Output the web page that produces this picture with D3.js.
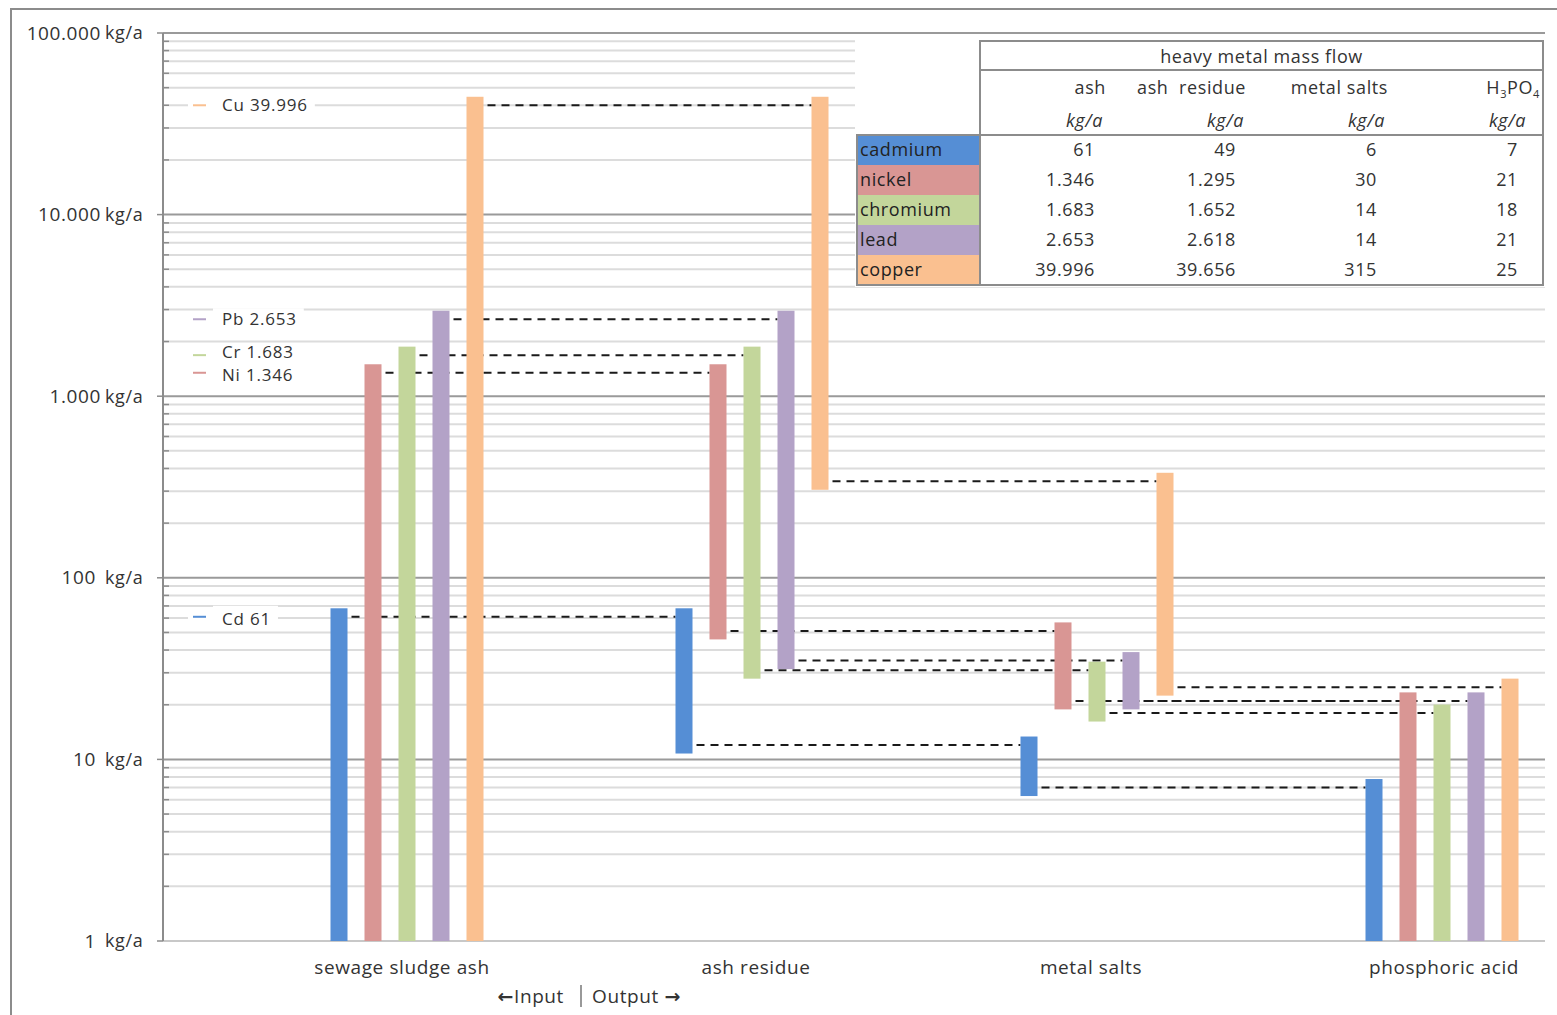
<!DOCTYPE html>
<html>
<head>
<meta charset="utf-8">
<script src="https://cdn.jsdelivr.net/npm/d3@7"></script>
<style>
  body { margin: 0; background: #fff; }
  svg text { font-family: "Open Sans", sans-serif; fill: #333; letter-spacing: 0.6px; }
</style>
</head>
<body>
<script>
// heavy metal mass flow, kg/a
var metals = ["cadmium", "nickel", "chromium", "lead", "copper"];
var symbols = ["Cd", "Ni", "Cr", "Pb", "Cu"];
var colors = ["#558ED5", "#D99694", "#C3D69B", "#B3A2C7", "#FAC090"];
var ash = [61, 1346, 1683, 2653, 39996];
var ashResidue = [49, 1295, 1652, 2618, 39656];
var metalSalts = [6, 30, 14, 14, 315];
var h3po4 = [7, 21, 18, 21, 25];

var stages = ["sewage sludge ash", "ash residue", "metal salts", "phosphoric acid"];
var tableCols = ["ash", "ash  residue", "metal salts", "H3PO4"];
var yTicks = [1, 10, 100, 1000, 10000, 100000];

var width = 1557, height = 1015;

var de = d3.formatLocale({ decimal: ",", thousands: ".", grouping: [3], currency: ["", " €"] });
var fmt = de.format(",d");

var svg = d3.select("body").append("svg")
  .attr("width", width)
  .attr("height", height);

// frame (only top/left visible in the original)
svg.append("rect")
  .attr("x", 11).attr("y", 9)
  .attr("width", width + 20).attr("height", height + 20)
  .attr("fill", "none").attr("stroke", "#8c8c8c").attr("stroke-width", 2);

var left = 163, right = 1545;

var y = d3.scaleLog()
  .domain([1, 100000])
  .range([941, 33]);

var x = d3.scalePoint()
  .domain(stages)
  .range([407, 1442]);

var xm = d3.scaleBand()
  .domain(metals)
  .range([-85, 85])
  .paddingInner(0.5)
  .paddingOuter(0.25);

// grid: minor lines for 2..9 of each decade, major at decades
var minor = [];
yTicks.slice(0, -1).forEach(function(d) {
  for (var m = 2; m <= 9; m++) minor.push(d * m);
});

var grid = svg.append("g");
grid.selectAll("line.minor")
  .data(minor)
  .enter().append("line")
  .attr("class", "minor")
  .attr("x1", left).attr("x2", right)
  .attr("y1", y).attr("y2", y)
  .attr("stroke", "#dcdcdc").attr("stroke-width", 2);

grid.selectAll("line.major")
  .data(yTicks)
  .enter().append("line")
  .attr("class", "major")
  .attr("x1", left).attr("x2", right)
  .attr("y1", y).attr("y2", y)
  .attr("stroke", function(d) { return d === 1 ? "#c8c8c8" : "#9a9a9a"; })
  .attr("stroke-width", 2);

// axis line + ticks
svg.append("line")
  .attr("x1", left).attr("x2", left)
  .attr("y1", y(100000)).attr("y2", y(1))
  .attr("stroke", "#8c8c8c").attr("stroke-width", 2);

svg.selectAll("line.mtick")
  .data(minor)
  .enter().append("line")
  .attr("x1", left).attr("x2", left + 6)
  .attr("y1", y).attr("y2", y)
  .attr("stroke", "#8c8c8c").attr("stroke-width", 1.5);

svg.selectAll("line.Mtick")
  .data(yTicks)
  .enter().append("line")
  .attr("x1", left - 6).attr("x2", left)
  .attr("y1", y).attr("y2", y)
  .attr("stroke", "#8c8c8c").attr("stroke-width", 1.5);

var yl = svg.selectAll("g.ylab")
  .data(yTicks)
  .enter().append("g")
  .attr("transform", function(d) { return "translate(0," + y(d) + ")"; });

yl.append("text")
  .attr("x", function(d) { return d >= 1000 ? 101 : 96; })
  .attr("dy", "0.35em")
  .attr("text-anchor", "end")
  .style("font-size", "19px")
  .text(fmt);

yl.append("text")
  .attr("x", 105)
  .attr("dy", "0.35em")
  .style("font-size", "18px")
  .text("kg/a");

// bar spans per stage: [low, high]
function span(s, i) {
  var rest = ash[i] - ashResidue[i];
  if (s === 0) return [1, ash[i]];
  if (s === 1) return [rest, ash[i]];
  if (s === 2) return [h3po4[i], rest];
  return [1, h3po4[i]];
}
// level that links stage s to stage s+1
function link(s, i) {
  if (s === 0) return ash[i];
  if (s === 1) return ash[i] - ashResidue[i];
  return h3po4[i];
}

var pad = 8.5;
var bars = [];
stages.forEach(function(st, s) {
  metals.forEach(function(m, i) {
    var sp = span(s, i);
    bars.push({ stage: st, s: s, metal: m, i: i, lo: sp[0], hi: sp[1] });
  });
});

// dashed connectors
var links = [];
for (var s = 0; s < stages.length - 1; s++) {
  metals.forEach(function(m, i) {
    links.push({ s: s, metal: m, v: link(s, i) });
  });
}

svg.selectAll("line.link")
  .data(links)
  .enter().append("line")
  .attr("x1", function(d) { return x(stages[d.s]) + xm(d.metal) + xm.bandwidth() + 4; })
  .attr("x2", function(d) { return x(stages[d.s + 1]) + xm(d.metal); })
  .attr("y1", function(d) { return y(d.v); })
  .attr("y2", function(d) { return y(d.v); })
  .attr("stroke", "#1a1a1a").attr("stroke-width", 2)
  .attr("stroke-dasharray", "8,6");

svg.selectAll("rect.bar")
  .data(bars)
  .enter().append("rect")
  .attr("class", "bar")
  .attr("x", function(d) { return x(d.stage) + xm(d.metal); })
  .attr("width", xm.bandwidth())
  .attr("y", function(d) { return y(d.hi) - pad; })
  .attr("height", function(d) {
    var bottom = d.lo === 1 ? y(1) : y(d.lo) + pad;
    return bottom - (y(d.hi) - pad);
  })
  .attr("fill", function(d) { return colors[d.i]; });

// category labels
var catShift = [-5, 4, -6, 2];
svg.selectAll("text.cat")
  .data(stages)
  .enter().append("text")
  .attr("x", function(d, i) { return x(d) + catShift[i]; })
  .attr("y", 974)
  .attr("text-anchor", "middle")
  .style("font-size", "19px")
  .text(function(d) { return d; });

var arrowFont = "'DejaVu Sans', sans-serif";
var tin = svg.append("text")
  .attr("x", 564).attr("y", 1003)
  .attr("text-anchor", "end")
  .style("font-size", "19px");
tin.append("tspan").style("font-family", arrowFont).style("font-weight", "bold").text("\u2190");
tin.append("tspan").text("Input");

svg.append("line")
  .attr("x1", 581).attr("x2", 581)
  .attr("y1", 985).attr("y2", 1007)
  .attr("stroke", "#555").attr("stroke-width", 1.2);

var tout = svg.append("text")
  .attr("x", 592).attr("y", 1003)
  .style("font-size", "19px");
tout.append("tspan").text("Output ");
tout.append("tspan").style("font-family", arrowFont).style("font-weight", "bold").text("\u2192");

// input labels at the left
var labNudge = [2, 2, -3, 0, 0];
var lab = svg.selectAll("g.inlab")
  .data(metals)
  .enter().append("g")
  .attr("transform", function(d, i) { return "translate(0," + y(ash[i]) + ")"; });

lab.append("rect")
  .attr("x", 188).attr("y", -3).attr("width", 26).attr("height", 6)
  .attr("fill", "#fff");
lab.append("rect")
  .attr("class", "tbox")
  .attr("x", 213).attr("y", -11).attr("height", 22)
  .attr("fill", "#fff");
lab.append("line")
  .attr("x1", 193).attr("x2", 206)
  .attr("stroke", function(d, i) { return colors[i]; })
  .attr("stroke-width", 2);
lab.append("text")
  .attr("x", 222)
  .attr("y", function(d, i) { return labNudge[i]; })
  .attr("dy", "0.35em")
  .style("font-size", "17px")
  .style("letter-spacing", "0.8px")
  .text(function(d, i) { return symbols[i] + " " + fmt(ash[i]); })
  .each(function() {
    var w = this.getComputedTextLength();
    d3.select(this.parentNode).select("rect.tbox").attr("width", w + 16);
  });

// table
var tx0 = 857, tx1 = 980, tx2 = 1543;
var rowTop = 135, rowH = 30;
var tbl = svg.append("g");

tbl.append("rect")
  .attr("x", tx0 - 2).attr("y", 38)
  .attr("width", tx2 - tx0 + 4).attr("height", rowTop + rowH * metals.length - 36)
  .attr("fill", "#fff");

tbl.selectAll("rect.cell")
  .data(metals)
  .enter().append("rect")
  .attr("x", tx0).attr("y", function(d, i) { return rowTop + i * rowH; })
  .attr("width", tx1 - tx0).attr("height", rowH)
  .attr("fill", function(d, i) { return colors[i]; });

tbl.selectAll("text.rowlab")
  .data(metals)
  .enter().append("text")
  .attr("x", tx0 + 3)
  .attr("y", function(d, i) { return rowTop + i * rowH + rowH / 2; })
  .attr("dy", "0.35em")
  .style("font-size", "18px")
  .style("fill", "#222")
  .text(function(d) { return d; });

var tline = "#8c8c8c";
tbl.append("path")
  .attr("d", "M" + tx1 + "," + (rowTop + rowH * 5) + "V41H" + tx2 + "V" + (rowTop + rowH * 5) +
    "H" + tx0 + "V" + rowTop + "H" + tx2 + "M" + tx1 + ",70H" + tx2)
  .attr("fill", "none").attr("stroke", tline).attr("stroke-width", 2);

tbl.append("text")
  .attr("x", (tx1 + tx2) / 2).attr("y", 57)
  .attr("dy", "0.35em")
  .attr("text-anchor", "middle")
  .style("font-size", "18px")
  .text("heavy metal mass flow");

var col = d3.scalePoint()
  .domain(tableCols)
  .range([1095, 1518]);

var headerEnd = { "ash": 1106, "ash  residue": 1246, "metal salts": 1388, "H3PO4": 1540 };

tableCols.forEach(function(c) {
  var t = tbl.append("text")
    .attr("x", headerEnd[c]).attr("y", 88)
    .attr("dy", "0.35em")
    .attr("text-anchor", "end")
    .style("font-size", "18px")
    .style("white-space", "pre");
  if (c === "H3PO4") {
    t.append("tspan").text("H");
    t.append("tspan").attr("dy", 4).style("font-size", "11px").text("3");
    t.append("tspan").attr("dy", -4).text("PO");
    t.append("tspan").attr("dy", 4).style("font-size", "11px").text("4");
  } else {
    t.text(c);
  }
  tbl.append("text")
    .attr("x", col(c) + 8).attr("y", 121)
    .attr("dy", "0.35em")
    .attr("text-anchor", "end")
    .style("font-size", "18px")
    .style("font-style", "italic")
    .text("kg/a");
});

var colData = [ash, ashResidue, metalSalts, h3po4];
colData.forEach(function(arr, c) {
  tbl.selectAll("text.v" + c)
    .data(arr)
    .enter().append("text")
    .attr("x", col(tableCols[c]))
    .attr("y", function(d, i) { return rowTop + i * rowH + rowH / 2; })
    .attr("dy", "0.35em")
    .attr("text-anchor", "end")
    .style("font-size", "18px")
    .text(fmt);
});
</script>
</body>
</html>
